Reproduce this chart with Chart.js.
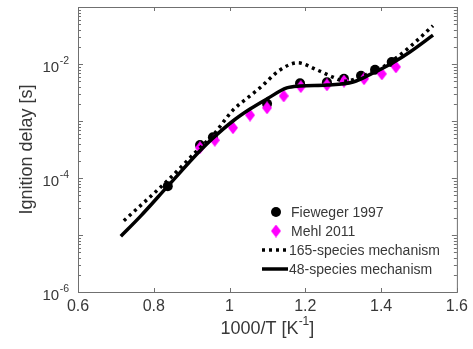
<!DOCTYPE html>
<html>
<head>
<meta charset="utf-8">
<script src="https://cdn.jsdelivr.net/npm/chart.js@4.4.1/dist/chart.umd.min.js"></script>
<style>
  html, body { margin: 0; padding: 0; background: #fff; }
  #wrap { width: 473px; height: 349px; }
</style>
</head>
<body>
<div id="wrap"><canvas id="chart"></canvas></div>
<script>
// values: x = 1000/T [1/K], y = ignition delay [s]
const fiewegerX = [0.837, 0.922, 0.956, 1.099, 1.186, 1.257, 1.302, 1.347, 1.384, 1.428];
const fiewegerY = [7.2e-5, 3.8e-4, 5.2e-4, 2.0e-3, 4.6e-3, 4.8e-3, 5.5e-3, 6.2e-3, 7.9e-3, 1.08e-2];

const mehlX = [0.922, 0.961, 1.009, 1.054, 1.099, 1.143, 1.188, 1.257, 1.302, 1.355, 1.402, 1.439];
const mehlY = [3.4e-4, 4.6e-4, 7.6e-4, 1.27e-3, 1.7e-3, 2.75e-3, 4.0e-3, 4.3e-3, 5.0e-3, 5.5e-3, 6.7e-3, 8.9e-3];

const mech165X = [0.721, 0.837, 0.922, 0.956, 1.009, 1.046, 1.080, 1.133, 1.180, 1.231, 1.273, 1.305, 1.352, 1.392, 1.428, 1.476, 1.537];
const mech165Y = [1.78e-5, 9.1e-5, 3.4e-4, 5.6e-4, 1.55e-3, 2.5e-3, 3.8e-3, 7.85e-3, 1.05e-2, 7.85e-3, 5.9e-3, 5.0e-3, 6.2e-3, 7.85e-3, 1.12e-2, 2.0e-2, 4.7e-2];

const mech48X = [0.713, 0.764, 0.837, 0.922, 0.956, 1.009, 1.054, 1.099, 1.151, 1.186, 1.257, 1.326, 1.370, 1.431, 1.476, 1.537];
const mech48Y = [9.5e-6, 2.1e-5, 7.2e-5, 3.0e-4, 5.0e-4, 1.0e-3, 1.62e-3, 2.45e-3, 3.8e-3, 4.1e-3, 4.27e-3, 4.83e-3, 6.5e-3, 1.05e-2, 1.62e-2, 3.2e-2];

const legendLabels = ['Fieweger 1997', 'Mehl 2011', '165-species mechanism', '48-species mechanism'];
const xTicks = [0.6, 0.8, 1.0, 1.2, 1.4, 1.6];
const yLabelExps = [-6, -4, -2];

const FONT = "'Liberation Sans', Arial, sans-serif";
const TEXT = '#383838';
const AXIS = '#707070';

function toPoints(xs, ys) {
    return xs.map((x, i) => ({ x: x, y: ys[i] }));
}

// matlab-ish diamond marker, a bit taller than it is wide
function diamond(w, h, color) {
    const c = document.createElement('canvas');
    c.width = w; c.height = h;
    const g = c.getContext('2d');
    g.fillStyle = color;
    g.beginPath();
    g.moveTo(w / 2, 0); g.lineTo(w, h / 2); g.lineTo(w / 2, h); g.lineTo(0, h / 2);
    g.closePath();
    g.fill();
    return c;
}
const diamondImg = diamond(10, 13, '#ff00ff');

// box, inward ticks, log tick labels, titles and the legend
const decorations = {
    id: 'decorations',
    afterDraw(chart) {
        const ctx = chart.ctx, a = chart.chartArea;
        const xs = chart.scales.x, ys = chart.scales.y;
        ctx.save();

        ctx.strokeStyle = AXIS;
        ctx.lineWidth = 1;
        ctx.strokeRect(a.left + 0.5, a.top + 0.5, a.right - a.left, a.bottom - a.top);

        ctx.beginPath();
        xTicks.forEach(v => {
            const px = Math.round(xs.getPixelForValue(v)) + 0.5;
            ctx.moveTo(px, a.bottom); ctx.lineTo(px, a.bottom - 4);
            ctx.moveTo(px, a.top); ctx.lineTo(px, a.top + 4);
        });
        for (let e = -6; e <= -1; e++) {
            for (let m = 1; m < 10; m++) {
                const v = m * Math.pow(10, e);
                if (v > 0.1 + 1e-12) break;
                const py = Math.round(ys.getPixelForValue(v)) + 0.5;
                const len = m === 1 ? 5 : 3;
                ctx.moveTo(a.left, py); ctx.lineTo(a.left + len, py);
                ctx.moveTo(a.right, py); ctx.lineTo(a.right - len, py);
            }
        }
        ctx.stroke();

        // y tick labels 10^n
        ctx.fillStyle = TEXT;
        ctx.textBaseline = 'middle';
        yLabelExps.forEach(e => {
            const py = ys.getPixelForValue(Math.pow(10, e));
            const sup = String(e);
            ctx.font = '10.5px ' + FONT;
            const ws = ctx.measureText(sup).width;
            const xEnd = a.left - 9;
            ctx.textAlign = 'left';
            ctx.fillText(sup, xEnd - ws, py - 3);
            ctx.font = '15px ' + FONT;
            ctx.textAlign = 'right';
            ctx.fillText('10', xEnd - ws - 0.5, py + 4);
        });

        // x title with superscript
        const cx = (a.left + a.right) / 2;
        ctx.font = '18px ' + FONT;
        const t1 = '1000/T [K', t3 = ']';
        const w1 = ctx.measureText(t1).width, w3 = ctx.measureText(t3).width;
        ctx.font = '12px ' + FONT;
        const t2 = '-1';
        const w2 = ctx.measureText(t2).width;
        let x0 = cx - (w1 + w2 + w3) / 2;
        ctx.textAlign = 'left';
        ctx.font = '18px ' + FONT;
        ctx.fillText(t1, x0, 329);
        ctx.font = '12px ' + FONT;
        ctx.fillText(t2, x0 + w1, 322);
        ctx.font = '18px ' + FONT;
        ctx.fillText(t3, x0 + w1 + w2, 329);

        // y title
        ctx.save();
        ctx.translate(27, (a.top + a.bottom) / 2);
        ctx.rotate(-Math.PI / 2);
        ctx.textAlign = 'center';
        ctx.font = '18px ' + FONT;
        ctx.fillText('Ignition delay [s]', 0, 0);
        ctx.restore();

        // legend
        const rows = [212, 231, 250, 269];
        ctx.font = '14px ' + FONT;
        ctx.textAlign = 'left';
        legendLabels.forEach((lab, i) => {
            const y = rows[i];
            if (i === 0) {
                ctx.fillStyle = '#000';
                ctx.beginPath();
                ctx.arc(276, y, 5, 0, Math.PI * 2);
                ctx.fill();
            } else if (i === 1) {
                ctx.drawImage(diamondImg, 276 - 5, y - 6.5);
            } else {
                ctx.strokeStyle = '#000';
                ctx.lineWidth = 3.5;
                ctx.lineCap = 'butt';
                ctx.setLineDash(i === 2 ? [3, 4] : []);
                ctx.beginPath();
                ctx.moveTo(262, y); ctx.lineTo(288, y);
                ctx.stroke();
                ctx.setLineDash([]);
            }
            ctx.fillStyle = TEXT;
            ctx.fillText(lab, i < 2 ? 291 : 289, y + 1);
        });

        ctx.restore();
    }
};

new Chart(document.getElementById('chart'), {
    type: 'scatter',
    data: {
        datasets: [
            {
                label: legendLabels[0],
                data: toPoints(fiewegerX, fiewegerY),
                pointStyle: 'circle',
                pointRadius: 5,
                backgroundColor: '#000',
                borderColor: '#000',
                borderWidth: 0,
                order: 4
            },
            {
                label: legendLabels[1],
                data: toPoints(mehlX, mehlY),
                pointStyle: diamondImg,
                backgroundColor: '#ff00ff',
                borderColor: '#ff00ff',
                order: 3
            },
            {
                label: legendLabels[2],
                data: toPoints(mech165X, mech165Y),
                showLine: true,
                pointRadius: 0,
                borderColor: '#000',
                borderWidth: 3.5,
                borderDash: [3, 4],
                borderCapStyle: 'butt',
                cubicInterpolationMode: 'monotone',
                order: 2
            },
            {
                label: legendLabels[3],
                data: toPoints(mech48X, mech48Y),
                showLine: true,
                pointRadius: 0,
                borderColor: '#000',
                borderWidth: 3.5,
                cubicInterpolationMode: 'monotone',
                order: 1
            }
        ]
    },
    options: {
        responsive: true,
        maintainAspectRatio: false,
        animation: false,
        layout: { padding: { top: 7, right: 16, left: 0, bottom: 0 } },
        plugins: {
            legend: { display: false },
            tooltip: { enabled: false }
        },
        scales: {
            x: {
                type: 'linear',
                min: 0.6,
                max: 1.6,
                grid: { display: false, drawTicks: false },
                border: { display: false },
                ticks: {
                    stepSize: 0.2,
                    padding: 5,
                    color: TEXT,
                    font: { family: FONT, size: 16 },
                    callback: v => String(+v.toFixed(1))
                },
                afterFit: s => { s.height = 57; }
            },
            y: {
                type: 'logarithmic',
                min: 1e-6,
                max: 1e-1,
                grid: { display: false, drawTicks: false },
                border: { display: false },
                ticks: { display: false },
                afterFit: s => { s.width = 78; }
            }
        }
    },
    plugins: [decorations]
});
</script>
</body>
</html>
